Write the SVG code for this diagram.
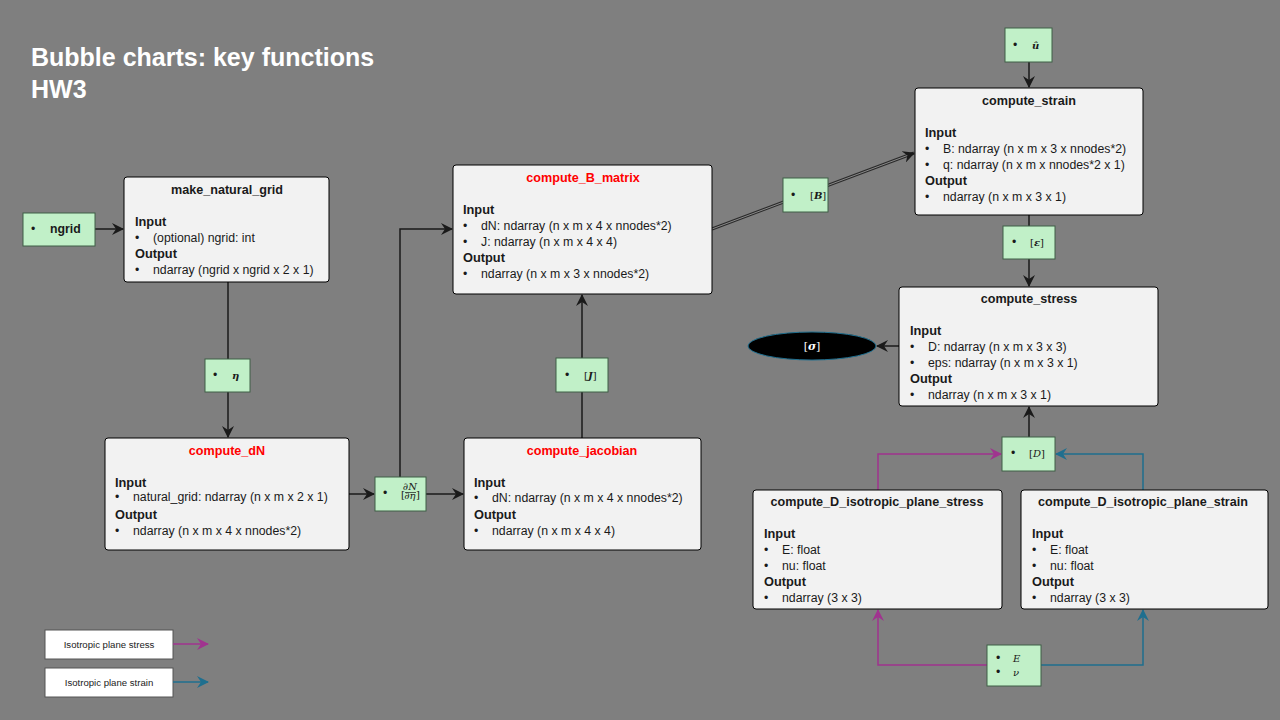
<svg xmlns="http://www.w3.org/2000/svg" width="1280" height="720" viewBox="0 0 1280 720">
<defs>
<style>
.bg{fill:#7f7f7f}
.fn rect{fill:#f2f2f2;stroke:#000;stroke-width:1}
.t{font-family:"Liberation Sans",Arial,sans-serif;font-size:12.3px;fill:#1a1a1a}
.ttl{font-family:"Liberation Sans",Arial,sans-serif;font-size:12.6px;font-weight:bold;fill:#1a1a1a;text-anchor:middle}
.red{fill:#ff0000}
.h{font-family:"Liberation Sans",Arial,sans-serif;font-size:12.8px;font-weight:bold;fill:#1a1a1a}
.g rect{fill:#c1f0c8;stroke:#3f5f46;stroke-width:1}
.m{font-family:"DejaVu Serif","Liberation Serif",serif;font-size:10px;font-style:italic;font-weight:bold;fill:#1a1a1a}
.mn{font-family:"DejaVu Serif","Liberation Serif",serif;font-size:10px;fill:#1a1a1a}
.c{fill:none;stroke:#1a1a1a;stroke-width:1.5}
.mg{fill:none;stroke:#a0338f;stroke-width:1.5}
.bl{fill:none;stroke:#1f6f8f;stroke-width:1.5}
.leg rect{fill:#fff;stroke:#555;stroke-width:1}
.lt{font-family:"Liberation Sans",Arial,sans-serif;font-size:9.6px;fill:#222;text-anchor:middle}
</style>
<marker id="ak" viewBox="0 0 12 12" refX="11" refY="6" markerWidth="12" markerHeight="12" markerUnits="userSpaceOnUse" orient="auto"><path d="M0,0 L12,6 L0,12 L4,6 z" fill="#1a1a1a"/></marker>
<marker id="am" viewBox="0 0 12 12" refX="11" refY="6" markerWidth="12" markerHeight="12" markerUnits="userSpaceOnUse" orient="auto"><path d="M0,0 L12,6 L0,12 L4,6 z" fill="#a0338f"/></marker>
<marker id="ab" viewBox="0 0 12 12" refX="11" refY="6" markerWidth="12" markerHeight="12" markerUnits="userSpaceOnUse" orient="auto"><path d="M0,0 L12,6 L0,12 L4,6 z" fill="#1f6f8f"/></marker>
</defs>
<rect class="bg" x="0" y="0" width="1280" height="720"/>

<g id="title" font-family="Liberation Sans,Arial,sans-serif" font-weight="bold" font-size="25" fill="#fff">
<text x="31" y="66">Bubble charts: key functions</text>
<text x="31" y="98">HW3</text>
</g>

<g id="connectors">
<path class="c" d="M95,229 L123,229" marker-end="url(#ak)"/>
<path class="c" d="M228,282 L228,359"/>
<path class="c" d="M228,392 L228,437" marker-end="url(#ak)"/>
<path class="c" d="M349,494 L374,494" marker-end="url(#ak)"/>
<path class="c" d="M426,494 L463,494" marker-end="url(#ak)"/>
<path class="c" d="M400,477 L400,229 L452,229" marker-end="url(#ak)"/>
<path class="c" d="M582,438 L582,392"/>
<path class="c" d="M582,358 L582,295" marker-end="url(#ak)"/>
<path d="M712,229 L914,153" fill="none" stroke="#2a2a2a" stroke-width="3"/>
<path d="M712,229 L914,153" fill="none" stroke="#8a8a8a" stroke-width="1"/>
<path d="M900,158.3 L914,153" fill="none" stroke="none" marker-end="url(#ak)"/>
<path class="c" d="M1029,62 L1029,87" marker-end="url(#ak)"/>
<path class="c" d="M1029,215 L1029,226"/>
<path class="c" d="M1029,259 L1029,286" marker-end="url(#ak)"/>
<path class="c" d="M899,346 L877,346" marker-end="url(#ak)"/>
<path class="c" d="M1029,437 L1029,407" marker-end="url(#ak)"/>
<path class="mg" d="M878,490 L878,454 L1001,454" marker-end="url(#am)"/>
<path class="bl" d="M1143,490 L1143,454 L1056,454" marker-end="url(#ab)"/>
<path class="mg" d="M987,665 L878,665 L878,610" marker-end="url(#am)"/>
<path class="bl" d="M1041,665 L1143,665 L1143,610" marker-end="url(#ab)"/>
</g>

<g id="ngrid" class="g">
<rect x="23" y="213" width="72" height="33"/>
<text class="t" x="31" y="233" font-size="10">•</text>
<text class="t" x="50" y="233" font-weight="bold" font-size="10">ngrid</text>
</g>

<g id="make_natural_grid" class="fn">
<rect x="124" y="177" width="205" height="105" rx="3"/>
<text class="ttl" x="227" y="194">make_natural_grid</text>
<text class="h" x="135" y="226">Input</text>
<text class="t" x="135" y="242">•</text><text class="t" x="153" y="242">(optional) ngrid: int</text>
<text class="h" x="135" y="258">Output</text>
<text class="t" x="135" y="274">•</text><text class="t" x="153" y="274">ndarray (ngrid x ngrid x 2 x 1)</text>
</g>

<g id="eta" class="g">
<rect x="205" y="359" width="45" height="33"/>
<text class="t" x="213" y="379" font-size="10">•</text>
<text class="m" x="232" y="379">η</text>
</g>

<g id="compute_dN" class="fn">
<rect x="105" y="438" width="244" height="112" rx="3"/>
<text class="ttl red" x="227" y="455">compute_dN</text>
<text class="h" x="115" y="487">Input</text>
<text class="t" x="115" y="501">•</text><text class="t" x="133" y="501">natural_grid: ndarray (n x m x 2 x 1)</text>
<text class="h" x="115" y="519">Output</text>
<text class="t" x="115" y="535">•</text><text class="t" x="133" y="535">ndarray (n x m x 4 x nnodes*2)</text>
</g>

<g id="dNdeta" class="g">
<rect x="375" y="477" width="51" height="34"/>
<text class="t" x="383" y="497" font-size="10">•</text>
<text class="mn" x="401" y="498" font-size="11">[</text>
<text class="mn" x="416" y="498" font-size="11">]</text>
<text class="mn" x="410" y="490" font-size="5.5" font-style="italic" text-anchor="middle">∂N</text>
<line x1="405" y1="492.5" x2="416" y2="492.5" stroke="#1a1a1a" stroke-width="0.7"/>
<text class="mn" x="410" y="499" font-size="5.5" font-style="italic" text-anchor="middle">∂η</text>
</g>

<g id="compute_jacobian" class="fn">
<rect x="464" y="438" width="237" height="112" rx="3"/>
<text class="ttl red" x="582" y="455">compute_jacobian</text>
<text class="h" x="474" y="487">Input</text>
<text class="t" x="474" y="502">•</text><text class="t" x="492" y="502">dN: ndarray (n x m x 4 x nnodes*2)</text>
<text class="h" x="474" y="519">Output</text>
<text class="t" x="474" y="535">•</text><text class="t" x="492" y="535">ndarray (n x m x 4 x 4)</text>
</g>

<g id="J" class="g">
<rect x="556" y="358" width="52" height="34"/>
<text class="t" x="565" y="379" font-size="10">•</text>
<text class="mn" x="584" y="379">[<tspan class="m">J</tspan>]</text>
</g>

<g id="compute_B_matrix" class="fn">
<rect x="453" y="165" width="259" height="129" rx="3"/>
<text class="ttl red" x="583" y="182">compute_B_matrix</text>
<text class="h" x="463" y="214">Input</text>
<text class="t" x="463" y="230">•</text><text class="t" x="481" y="230">dN: ndarray (n x m x 4 x nnodes*2)</text>
<text class="t" x="463" y="246">•</text><text class="t" x="481" y="246">J: ndarray (n x m x 4 x 4)</text>
<text class="h" x="463" y="262">Output</text>
<text class="t" x="463" y="278">•</text><text class="t" x="481" y="278">ndarray (n x m x 3 x nnodes*2)</text>
</g>

<g id="B" class="g">
<rect x="783" y="178" width="45" height="34"/>
<text class="t" x="791" y="199" font-size="10">•</text>
<text class="mn" x="810" y="199">[<tspan class="m">B</tspan>]</text>
</g>

<g id="uhat" class="g">
<rect x="1005" y="28" width="47" height="34"/>
<text class="t" x="1013" y="49" font-size="10">•</text>
<text class="m" x="1032" y="49">û</text>
</g>

<g id="compute_strain" class="fn">
<rect x="915" y="88" width="228" height="127" rx="3"/>
<text class="ttl" x="1029" y="105">compute_strain</text>
<text class="h" x="925" y="137">Input</text>
<text class="t" x="925" y="153">•</text><text class="t" x="943" y="153">B: ndarray (n x m x 3 x nnodes*2)</text>
<text class="t" x="925" y="169">•</text><text class="t" x="943" y="169">q: ndarray (n x m x nnodes*2 x 1)</text>
<text class="h" x="925" y="185">Output</text>
<text class="t" x="925" y="201">•</text><text class="t" x="943" y="201">ndarray (n x m x 3 x 1)</text>
</g>

<g id="eps" class="g">
<rect x="1003" y="226" width="52" height="33"/>
<text class="t" x="1012" y="246" font-size="10">•</text>
<text class="mn" x="1030" y="246">[<tspan class="m">ε</tspan>]</text>
</g>

<g id="compute_stress" class="fn">
<rect x="899" y="287" width="259" height="119" rx="3"/>
<text class="ttl" x="1029" y="303">compute_stress</text>
<text class="h" x="910" y="335">Input</text>
<text class="t" x="910" y="351">•</text><text class="t" x="928" y="351">D: ndarray (n x m x 3 x 3)</text>
<text class="t" x="910" y="367">•</text><text class="t" x="928" y="367">eps: ndarray (n x m x 3 x 1)</text>
<text class="h" x="910" y="383">Output</text>
<text class="t" x="910" y="399">•</text><text class="t" x="928" y="399">ndarray (n x m x 3 x 1)</text>
</g>

<g id="sigma">
<ellipse cx="812" cy="346" rx="64" ry="14" fill="#000" stroke="#1f6f8f" stroke-width="1"/>
<text x="812" y="350" font-family="DejaVu Serif,Liberation Serif,serif" font-size="11" fill="#fff" text-anchor="middle">[<tspan font-style="italic" font-weight="bold">σ</tspan>]</text>
</g>

<g id="D" class="g">
<rect x="1002" y="437" width="53" height="34"/>
<text class="t" x="1011" y="457" font-size="10">•</text>
<text class="mn" x="1029" y="457">[<tspan font-style="italic">D</tspan>]</text>
</g>

<g id="compute_D_isotropic_plane_stress" class="fn">
<rect x="753" y="490" width="249" height="119" rx="3"/>
<text class="ttl" x="877" y="506">compute_D_isotropic_plane_stress</text>
<text class="h" x="764" y="538">Input</text>
<text class="t" x="764" y="554">•</text><text class="t" x="782" y="554">E: float</text>
<text class="t" x="764" y="570">•</text><text class="t" x="782" y="570">nu: float</text>
<text class="h" x="764" y="586">Output</text>
<text class="t" x="764" y="602">•</text><text class="t" x="782" y="602">ndarray (3 x 3)</text>
</g>

<g id="compute_D_isotropic_plane_strain" class="fn">
<rect x="1021" y="490" width="247" height="119" rx="3"/>
<text class="ttl" x="1143" y="506">compute_D_isotropic_plane_strain</text>
<text class="h" x="1032" y="538">Input</text>
<text class="t" x="1032" y="554">•</text><text class="t" x="1050" y="554">E: float</text>
<text class="t" x="1032" y="570">•</text><text class="t" x="1050" y="570">nu: float</text>
<text class="h" x="1032" y="586">Output</text>
<text class="t" x="1032" y="602">•</text><text class="t" x="1050" y="602">ndarray (3 x 3)</text>
</g>

<g id="Enu" class="g">
<rect x="987" y="645" width="54" height="41"/>
<text class="t" x="996" y="662" font-size="10">•</text>
<text class="mn" x="1013" y="662" font-style="italic">E</text>
<text class="t" x="996" y="676" font-size="10">•</text>
<text class="mn" x="1013" y="676" font-style="italic">ν</text>
</g>

<g id="legend" class="leg">
<rect x="45" y="630" width="128" height="29"/>
<text class="lt" x="109" y="648">Isotropic plane stress</text>
<path class="mg" d="M173,644 L208,644" marker-end="url(#am)"/>
<rect x="45" y="668" width="128" height="29"/>
<text class="lt" x="109" y="686">Isotropic plane strain</text>
<path class="bl" d="M173,682 L208,682" marker-end="url(#ab)"/>
</g>
</svg>
